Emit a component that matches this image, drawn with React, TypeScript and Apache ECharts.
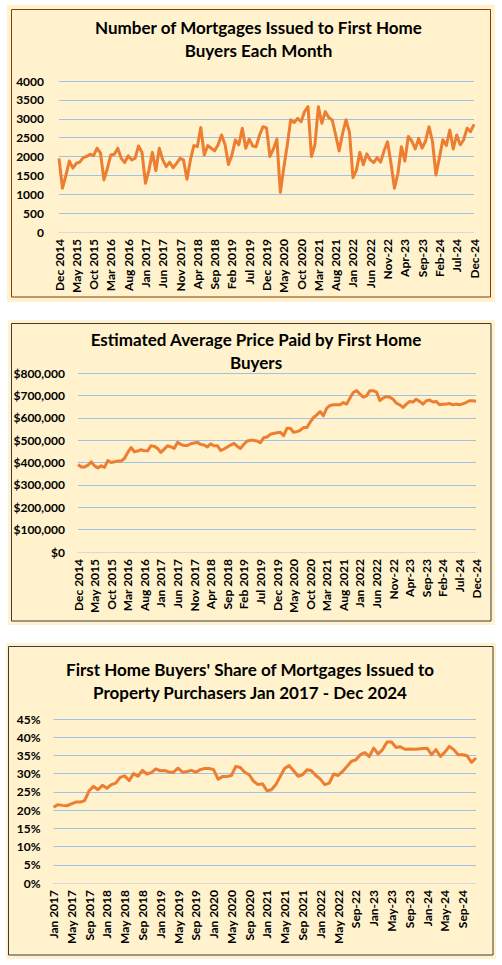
import React, { useEffect, useRef } from "react";
import * as echarts from "echarts";

const MONTH_NAMES = ["Jan", "Feb", "Mar", "Apr", "May", "Jun", "Jul", "Aug", "Sep", "Oct", "Nov", "Dec"];

// Category labels: "Mon YYYY" up to Aug 2022, "Mon-YY" from Sep 2022 on
function monthCategories(startYear: number, startMonth: number, count: number): string[] {
  const out: string[] = [];
  for (let i = 0; i < count; i++) {
    const idx = startMonth + i;
    const y = startYear + Math.floor(idx / 12);
    const m = idx % 12;
    const shortFmt = y > 2022 || (y === 2022 && m >= 8);
    out.push(shortFmt ? `${MONTH_NAMES[m]}-${String(y).slice(2)}` : `${MONTH_NAMES[m]} ${y}`);
  }
  return out;
}

// Dec 2014 .. Dec 2024 (121 months)
const monthsDec2014 = monthCategories(2014, 11, 121);
// Jan 2017 .. Dec 2024 (96 months)
const monthsJan2017 = monthCategories(2017, 0, 96);

const mortgageCounts = [
  1950, 1160, 1500, 1880, 1690, 1820, 1850, 1970, 2000, 2060,
  2020, 2220, 2090, 1380, 1690, 2040, 2060, 2220, 1950, 1840,
  2020, 1910, 1950, 2280, 2110, 1290, 1640, 2110, 1620, 2220,
  1910, 1730, 1850, 1700, 1820, 1950, 1910, 1400, 1910, 2290,
  2260, 2770, 2040, 2290, 2220, 2150, 2310, 2570, 2320, 1790,
  2040, 2440, 2310, 2750, 2220, 2460, 2280, 2260, 2570, 2790,
  2760, 2000, 2200, 2460, 1050, 1700, 2300, 2970, 2900, 3010,
  2920, 3190, 3320, 2000, 2310, 3320, 2880, 3190, 3030, 2970,
  2570, 2150, 2610, 2970, 2640, 1440, 1640, 2110, 1780, 2070,
  1910, 1840, 1970, 1850, 2150, 2390, 1820, 1160, 1550, 2260,
  1880, 2530, 2410, 2200, 2480, 2220, 2410, 2790, 2390, 1510,
  1970, 2440, 2290, 2700, 2200, 2570, 2310, 2440, 2750, 2660,
  2850,
];

const avgPricesK = [
  391, 380, 380, 388, 403, 385, 376, 385, 378, 409,
  400, 403, 407, 407, 418, 445, 467, 448, 451, 457,
  452, 452, 475, 472, 463, 445, 460, 475, 470, 463,
  490, 481, 476, 476, 484, 487, 490, 481, 478, 469,
  484, 475, 475, 454, 460, 469, 478, 485, 473, 463,
  481, 496, 499, 499, 496, 488, 511, 514, 526, 530,
  533, 535, 520, 553, 553, 535, 538, 544, 556, 556,
  580, 601, 613, 628, 609, 643, 655, 658, 658, 658,
  668, 661, 688, 713, 721, 706, 692, 698, 721, 721,
  715, 677, 688, 695, 692, 683, 665, 658, 646, 661,
  673, 670, 683, 673, 661, 676, 679, 670, 673, 658,
  660, 661, 664, 658, 661, 658, 662, 668, 676, 676,
  674,
];

const fhbSharePct = [
  20.8, 21.5, 21.3, 21.2, 21.7, 22.2, 22.2, 22.6, 25.3, 26.5,
  25.6, 26.8, 26.0, 27.0, 27.4, 29.0, 29.4, 28.1, 30.0, 29.3,
  30.9, 29.9, 30.3, 31.3, 30.8, 30.9, 30.4, 30.4, 31.5, 30.4,
  30.6, 30.9, 30.4, 31.1, 31.4, 31.4, 31.1, 28.5, 29.2, 29.2,
  29.5, 32.0, 31.7, 30.4, 29.7, 27.9, 27.0, 27.2, 25.3, 25.6,
  27.0, 29.3, 31.5, 32.2, 30.8, 29.3, 29.7, 31.1, 30.8, 29.5,
  28.5, 27.0, 27.4, 29.9, 29.5, 30.6, 32.0, 33.4, 33.8, 35.2,
  35.8, 34.7, 37.0, 35.4, 36.6, 38.7, 38.7, 37.2, 37.4, 36.7,
  36.8, 36.7, 36.8, 36.9, 37.0, 35.2, 36.6, 34.7, 35.9, 37.5,
  36.6, 35.2, 35.2, 34.9, 33.1, 34.3,
];

const titles1 = ["Number of Mortgages Issued to First Home", "Buyers Each Month"];
const titles2 = ["Estimated Average Price Paid by First Home", "Buyers"];
const titles3 = ["First Home Buyers' Share of Mortgages Issued to", "Property Purchasers Jan 2017 - Dec 2024"];

const FONT = "Lato, 'Open Sans', sans-serif";
const CREAM = "#FFF2CC";
const ORANGE = "#ED7D31";
const GRID_BLUE = "#9DC3E6";

function xAxisCfg(data: string[], gridIndex: number, interval: number) {
  return {
    type: "category",
    gridIndex,
    data,
    boundaryGap: false,
    axisTick: { show: false },
    axisLine: { lineStyle: { color: "#D9D9D9", width: 1 } },
    axisLabel: {
      rotate: 90,
      interval,
      fontFamily: FONT,
      fontWeight: "bold",
      fontSize: 12,
      color: "#000",
      margin: 7,
    },
  };
}

function yAxisCfg(gridIndex: number, max: number, interval: number, formatter: (v: number) => string, margin: number) {
  return {
    type: "value",
    gridIndex,
    min: 0,
    max,
    interval,
    axisLine: { show: false },
    axisTick: { show: false },
    splitLine: { lineStyle: { color: GRID_BLUE, width: 1 } },
    axisLabel: {
      formatter,
      fontFamily: FONT,
      fontWeight: "bold",
      fontSize: 12,
      color: "#000",
      margin,
    },
  };
}

function titleText(text: string, cx: number, cy: number) {
  return {
    type: "text",
    x: cx,
    y: cy,
    z: 5,
    style: {
      text,
      fill: "#000",
      font: `bold 17px ${FONT}`,
      textAlign: "center",
      textVerticalAlign: "middle",
    },
  };
}

function box(x: number, y: number, w: number, h: number, bx: number, by: number, bw: number, bh: number, stroke: string) {
  return [
    { type: "rect", z: -10, shape: { x, y, width: w, height: h }, style: { fill: CREAM } },
    { type: "rect", z: -9, shape: { x: bx, y: by, width: bw, height: bh }, style: { fill: "none", stroke, lineWidth: 1 } },
  ];
}

export default function App() {
  const ref = useRef<HTMLDivElement>(null);
  useEffect(() => {
    const chart = echarts.init(ref.current!, null, { renderer: "svg" });
    const fmtInt = (v: number) => String(v);
    const fmtDollar = (v: number) => "$" + v.toLocaleString("en-US");
    const fmtPct = (v: number) => `${v}%`;
    chart.setOption({
      animation: false,
      grid: [
        { left: 59, top: 81, width: 415, height: 151 },
        { left: 78, top: 373, width: 398, height: 179 },
        { left: 53.5, top: 719, width: 422.5, height: 164 },
      ],
      xAxis: [
        xAxisCfg(monthsDec2014, 0, 4),
        xAxisCfg(monthsDec2014, 1, 4),
        xAxisCfg(monthsJan2017, 2, 3),
      ],
      yAxis: [
        yAxisCfg(0, 4000, 500, fmtInt, 15),
        yAxisCfg(1, 800000, 100000, fmtDollar, 13),
        yAxisCfg(2, 45, 5, fmtPct, 13),
      ],
      series: [
        {
          type: "line", xAxisIndex: 0, yAxisIndex: 0, data: mortgageCounts, symbol: "none",
          lineStyle: { color: ORANGE, width: 3, join: "round" },
        },
        {
          type: "line", xAxisIndex: 1, yAxisIndex: 1, data: avgPricesK.map((v) => v * 1000), symbol: "none",
          lineStyle: { color: ORANGE, width: 3, join: "round" },
        },
        {
          type: "line", xAxisIndex: 2, yAxisIndex: 2, data: fhbSharePct, symbol: "none",
          lineStyle: { color: ORANGE, width: 3, join: "round" },
        },
      ],
      graphic: [
        ...box(7, 5, 488, 297, 11.5, 9.5, 479, 287.5, "#843C0C"),
        ...box(8, 320, 487, 305, 11.5, 323.5, 479.5, 297.5, "#3b3b3b"),
        ...box(6, 643, 490, 316, 8.5, 646.5, 484.5, 308.5, "#3b3b3b"),
        titleText(titles1[0], 258.5, 27),
        titleText(titles1[1], 258.5, 50),
        titleText(titles2[0], 256, 339),
        titleText(titles2[1], 256, 362),
        titleText(titles3[0], 250, 669),
        titleText(titles3[1], 250, 692),
      ],
    });
    return () => chart.dispose();
  }, []);
  return <div ref={ref} style={{ position: "absolute", left: 0, top: 0, width: 502, height: 965 }} />;
}
